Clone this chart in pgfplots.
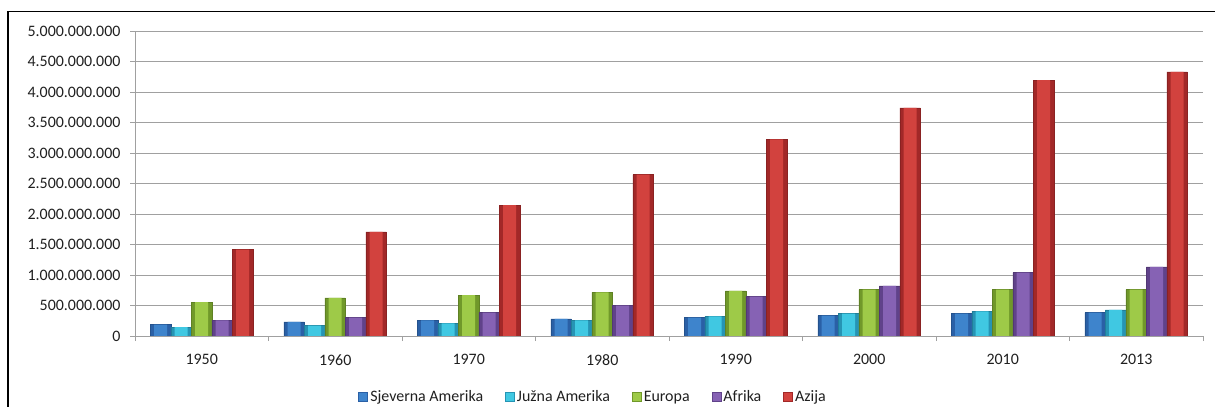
\documentclass[border=0pt]{standalone}
\usepackage{pgfplots}
\pgfplotsset{compat=1.18}
\usepackage{fontspec}
\setmainfont{Carlito}
\definecolor{mNA}{RGB}{62,132,204}
\definecolor{eNA}{RGB}{42,96,166}
\definecolor{mSA}{RGB}{64,200,226}
\definecolor{eSA}{RGB}{38,148,180}
\definecolor{mEU}{RGB}{158,202,72}
\definecolor{eEU}{RGB}{112,152,42}
\definecolor{mAF}{RGB}{134,98,180}
\definecolor{eAF}{RGB}{96,66,138}
\definecolor{mAS}{RGB}{210,66,62}
\definecolor{eAS}{RGB}{162,40,40}
\definecolor{gridc}{RGB}{160,160,160}
\pgfplotstableread{
x NA SA EU AF AS
0 185000000 145000000 555000000 255000000 1415000000
1 230000000 170000000 625000000 300000000 1705000000
2 255000000 205000000 670000000 385000000 2145000000
3 280000000 255000000 715000000 500000000 2645000000
4 300000000 320000000 740000000 645000000 3225000000
5 335000000 365000000 760000000 820000000 3740000000
6 365000000 405000000 760000000 1040000000 4195000000
7 385000000 430000000 760000000 1135000000 4330000000
}\data
\pgfplotsset{
  basebar/.style n args={3}{fill=#2, draw=#2!85!black, line width=0.5bp, bar shift=#3,
    legend image code/.code={\draw[fill=#1, draw=#2, line width=0.8bp] (0bp,-4.5bp) rectangle (9bp,4.5bp);}},
  topbar/.style 2 args={fill=#1, draw=none, bar width=13bp, bar shift=#2, forget plot},
}
\begin{document}
\begin{tikzpicture}
\useasboundingbox (0,0) rectangle (1215bp,407bp);
\draw[line width=1.5bp] (8bp,-5bp) -- (8bp,395.5bp) -- (1220bp,395.5bp);
\begin{axis}[
  at={(135bp,71bp)}, anchor=south west, scale only axis,
  width=1068bp, height=305bp,
  xmin=-0.5, xmax=7.5, ymin=0, ymax=5000000000,
  scaled y ticks=false,
  axis lines*=left, axis line style={draw=gridc, line width=0.8bp},
  ybar=0pt, bar width=20.5bp,
  xtick={-0.5,0.5,1.5,2.5,3.5,4.5,5.5,6.5,7.5}, xticklabels={},
  extra x ticks={0,1,2,3,4,5,6,7},
  extra x tick labels={1950,1960,1970,1980,1990,2000,2010,2013},
  extra x tick style={major tick length=0pt, grid=none},
  ytick={0,500000000,1000000000,1500000000,2000000000,2500000000,3000000000,3500000000,4000000000,4500000000,5000000000},
  yticklabels={0,500.000.000,1.000.000.000,1.500.000.000,2.000.000.000,2.500.000.000,3.000.000.000,3.500.000.000,4.000.000.000,4.500.000.000,5.000.000.000},
  ymajorgrids, grid style={draw=gridc, line width=0.8bp},
  tick align=outside, major tick length=5bp,
  tick style={draw=gridc, line width=0.8bp},
  tick label style={font=\fontsize{16}{18}\selectfont, text=black!88},
  yticklabel style={xshift=-6bp},
  xticklabel style={yshift=-15bp},
  legend style={at={(0.429,-0.2)}, anchor=center, draw=none, fill=none,
    legend columns=5, font=\fontsize{16}{18}\selectfont, text=black!88,
    /tikz/every even column/.append style={column sep=20bp}},
]
\addplot[basebar={mNA}{eNA}{-41bp}] table[x=x,y=NA]{\data};
\addplot[topbar={mNA}{-41bp}] table[x=x,y=NA]{\data};
\addplot[basebar={mSA}{eSA}{-20.5bp}] table[x=x,y=SA]{\data};
\addplot[topbar={mSA}{-20.5bp}] table[x=x,y=SA]{\data};
\addplot[basebar={mEU}{eEU}{0bp}] table[x=x,y=EU]{\data};
\addplot[topbar={mEU}{0bp}] table[x=x,y=EU]{\data};
\addplot[basebar={mAF}{eAF}{20.5bp}] table[x=x,y=AF]{\data};
\addplot[topbar={mAF}{20.5bp}] table[x=x,y=AF]{\data};
\addplot[basebar={mAS}{eAS}{41bp}] table[x=x,y=AS]{\data};
\addplot[topbar={mAS}{41bp}] table[x=x,y=AS]{\data};
\legend{Sjeverna Amerika, Južna Amerika, Europa, Afrika, Azija}
\end{axis}
\end{tikzpicture}
\end{document}
